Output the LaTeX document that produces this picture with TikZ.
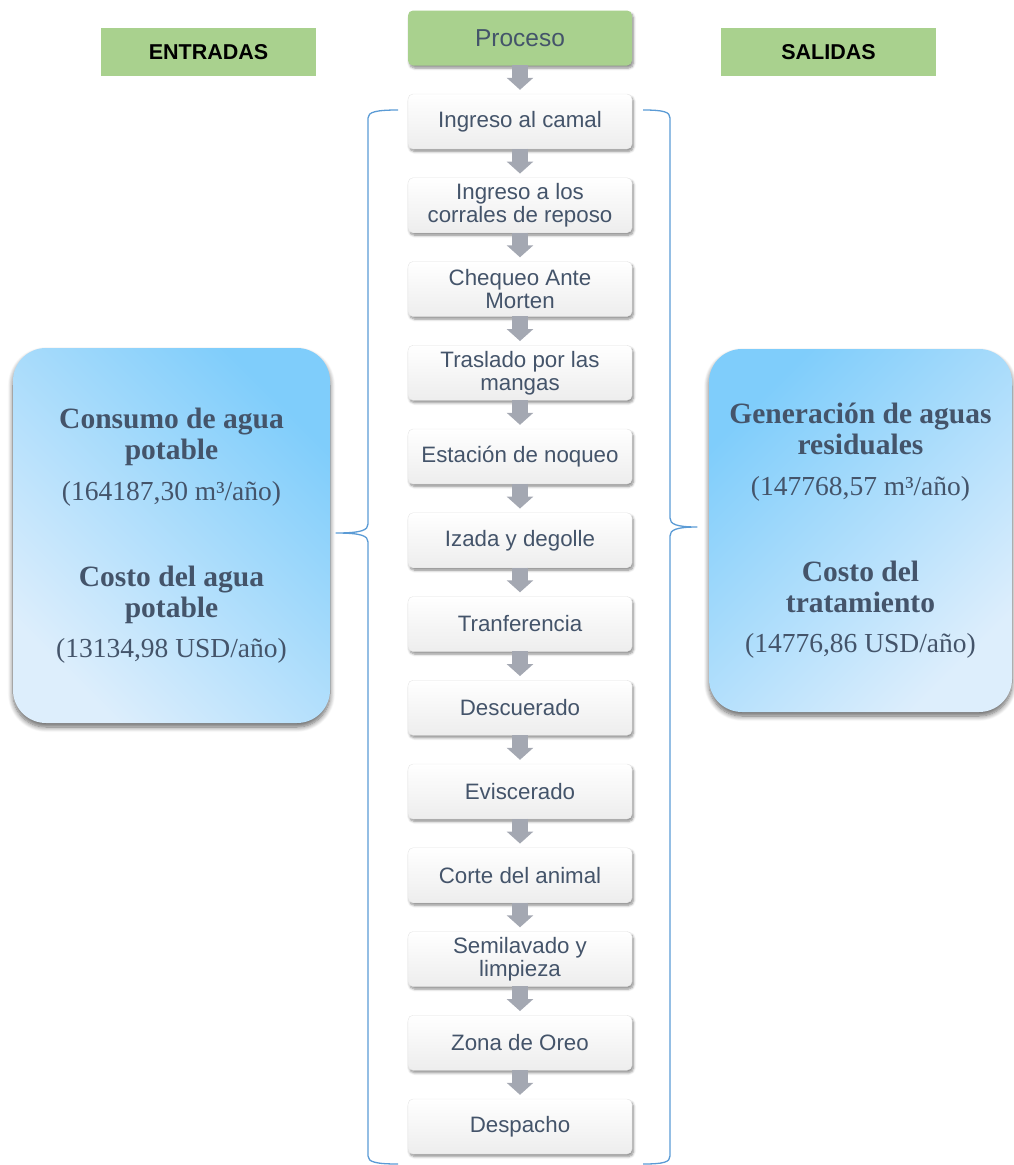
\documentclass[tikz,border=0pt]{standalone}
\usepackage{fontspec}
\setmainfont{Liberation Serif}
\newfontfamily\arialfont{Liberation Sans}
\usetikzlibrary{shadows.blur,arrows.meta}

\definecolor{txtblue}{HTML}{44546A}
\definecolor{headgreen}{HTML}{A9D18E}
\definecolor{bracecol}{HTML}{5B9BD5}
\definecolor{arrowgray}{HTML}{A4A8B2}
\definecolor{skydark}{HTML}{7FCDFB}
\definecolor{skylight}{HTML}{DDEEFC}

\tikzset{
  stepbox/.style={rectangle, rounded corners=5pt, minimum width=224pt,
    minimum height=55pt, inner sep=2pt, top color=white, bottom color=black!7,
    draw=black!10, line width=0.4pt, align=center, text=txtblue,
    font=\arialfont\fontsize{22.3}{23}\selectfont,
    blur shadow={shadow xshift=1.5pt, shadow yshift=-2.5pt,
      shadow blur steps=6, shadow blur radius=2.5pt, shadow opacity=45}},
  headbox/.style={stepbox, top color=headgreen, bottom color=headgreen,
    draw=none, font=\arialfont\fontsize{24.5}{26}\selectfont},
  sidehead/.style={rectangle, fill=headgreen, minimum width=215pt,
    minimum height=48pt, inner sep=0pt, text=black,
    font=\arialfont\bfseries\fontsize{21.5}{23}\selectfont},
  waterbox/.style={rectangle, rounded corners=33pt, align=center, inner sep=0pt,
    text=txtblue, font=\fontsize{29.5}{30.7}\selectfont,
    blur shadow={shadow xshift=0pt, shadow yshift=-4pt,
      shadow blur steps=8, shadow blur radius=5pt, shadow opacity=60}},
  flowarrow/.style={draw=arrowgray, line width=16pt,
    -{Triangle[width=26pt,length=12pt]}},
  brace/.style={draw=bracecol, line width=1.3pt, line join=round}
}

\newcommand{\valuetext}[1]{{\mdseries\fontsize{27.5}{30.7}\selectfont #1}}

\begin{document}
\begin{tikzpicture}[x=1pt,y=-1pt]
  \useasboundingbox (0,0) rectangle (1014,1165);

  % column headings
  \node[sidehead] (entradas) at (208.5,52) {ENTRADAS};
  \node[sidehead] (salidas) at (828.5,52) {SALIDAS};

  % process column
  \node[headbox] (s0) at (520,38) {Proceso};
  \foreach \lbl [count=\i] in {
      {Ingreso al camal},
      {Ingreso a los\\corrales de reposo},
      {Chequeo Ante\\Morten},
      {Traslado por las\\mangas},
      {Estación de noqueo},
      {Izada y degolle},
      {Tranferencia},
      {Descuerado},
      {Eviscerado},
      {Corte del animal},
      {Semilavado y\\limpieza},
      {Zona de Oreo},
      {Despacho}}
    \node[stepbox] (s\i) at (520,{37.75+83.75*\i}) {\lbl};

  % arrows between consecutive steps
  \foreach \i in {0,...,12} {
    \pgfmathtruncatemacro\j{\i+1}
    \draw[flowarrow] ([yshift=0.3pt]s\i.south) -- ([yshift=4pt]s\j.north);
  }

  % inputs
  \node[waterbox, minimum width=317pt, minimum height=375pt,
        top color=skydark, bottom color=skylight, shading angle=-45]
    (inbox) at (171.5,535.5) {%
    \textbf{Consumo de agua}\\
    \textbf{potable}\\[10.3pt]
    \valuetext{(164187,30 m³/año)}\\[55.3pt]
    \textbf{Costo del agua}\\
    \textbf{potable}\\[9.3pt]
    \valuetext{(13134,98 USD/año)}};

  % outputs
  \node[waterbox, minimum width=303pt, minimum height=363pt,
        top color=skydark, bottom color=skylight, shading angle=45]
    (outbox) at (860.5,530.5) {%
    \textbf{Generación de aguas}\\
    \textbf{residuales}\\[10.3pt]
    \valuetext{(147768,57 m³/año)}\\[55.3pt]
    \textbf{Costo del}\\
    \textbf{tratamiento}\\[9.3pt]
    \valuetext{(14776,86 USD/año)}};

  % braces grouping the process steps
  \draw[brace] (398,110) .. controls (376,110) and (368,112) .. (368,118)
    -- (368,524) .. controls (368,530) and (362,533) .. (336,533)
    .. controls (362,533) and (368,536) .. (368,542)
    -- (368,1156) .. controls (368,1162) and (376,1164) .. (398,1164);
  \draw[brace] (643,110) .. controls (664,110) and (670,112) .. (670,118)
    -- (670,518) .. controls (670,524) and (676,527) .. (697,527)
    .. controls (676,527) and (670,530) .. (670,536)
    -- (670,1156) .. controls (670,1162) and (664,1164) .. (643,1164);
\end{tikzpicture}
\end{document}
